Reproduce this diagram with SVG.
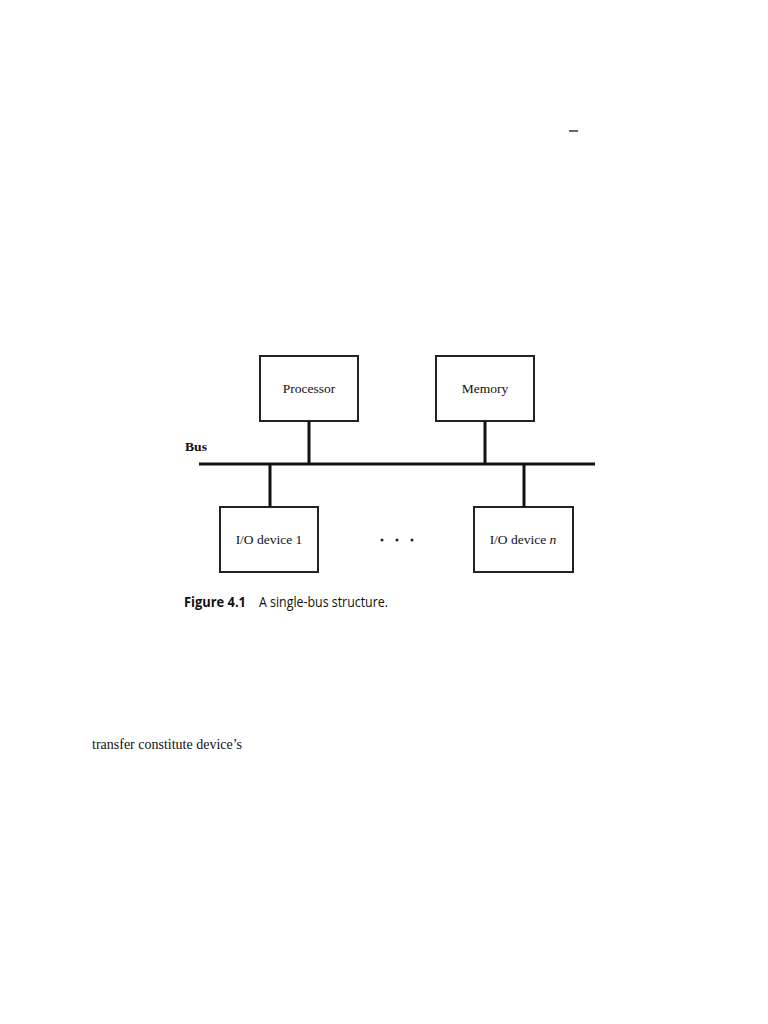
<svg xmlns="http://www.w3.org/2000/svg" width="768" height="1024" viewBox="0 0 768 1024">
<style>
.box{fill:#fff;stroke:#222;stroke-width:2}
.lbl{font-family:"Liberation Serif",serif;font-size:13.5px;fill:#111;text-anchor:middle}
.wire{stroke:#111;stroke-width:3;fill:none}
.cap{font-family:"Open Sans","Liberation Sans",sans-serif;font-size:14.5px;fill:#111}
</style>
<rect width="768" height="1024" fill="#fff"/>
<line x1="569" y1="131" x2="578" y2="131" stroke="#333" stroke-width="1.5"/>
<g id="processor"><rect class="box" x="260" y="356" width="98" height="65"/><text class="lbl" x="309" y="393">Processor</text></g>
<g id="memory"><rect class="box" x="436" y="356" width="98" height="65"/><text class="lbl" x="485" y="393">Memory</text></g>
<g id="io1"><rect class="box" x="220" y="507" width="98" height="65"/><text class="lbl" x="269" y="544">I/O device 1</text></g>
<g id="ion"><rect class="box" x="474" y="507" width="99" height="65"/><text class="lbl" x="523" y="544">I/O device <tspan font-style="italic">n</tspan></text></g>
<g id="bus"><text x="185" y="451" font-family="Liberation Serif,serif" font-size="13.5" fill="#111" font-weight="bold" textLength="22" lengthAdjust="spacingAndGlyphs">Bus</text></g>
<g id="connectors">
<line class="wire" x1="199" y1="464" x2="595" y2="464"/>
<line class="wire" x1="309" y1="421" x2="309" y2="464"/>
<line class="wire" x1="485" y1="421" x2="485" y2="464"/>
<line class="wire" x1="270" y1="464" x2="270" y2="507"/>
<line class="wire" x1="524" y1="464" x2="524" y2="507"/>
</g>
<g fill="#222"><circle cx="382" cy="540" r="1.5"/><circle cx="397" cy="540" r="1.5"/><circle cx="412" cy="540" r="1.5"/></g>
<g id="caption">
<text class="cap" x="184" y="607" font-weight="bold" textLength="62" lengthAdjust="spacingAndGlyphs">Figure 4.1</text>
<text class="cap" x="259" y="607" textLength="129" lengthAdjust="spacingAndGlyphs">A single-bus structure.</text>
</g>
<text x="92" y="749" font-family="'Liberation Serif',serif" font-size="14" fill="#111">transfer constitute device’s</text>
</svg>
